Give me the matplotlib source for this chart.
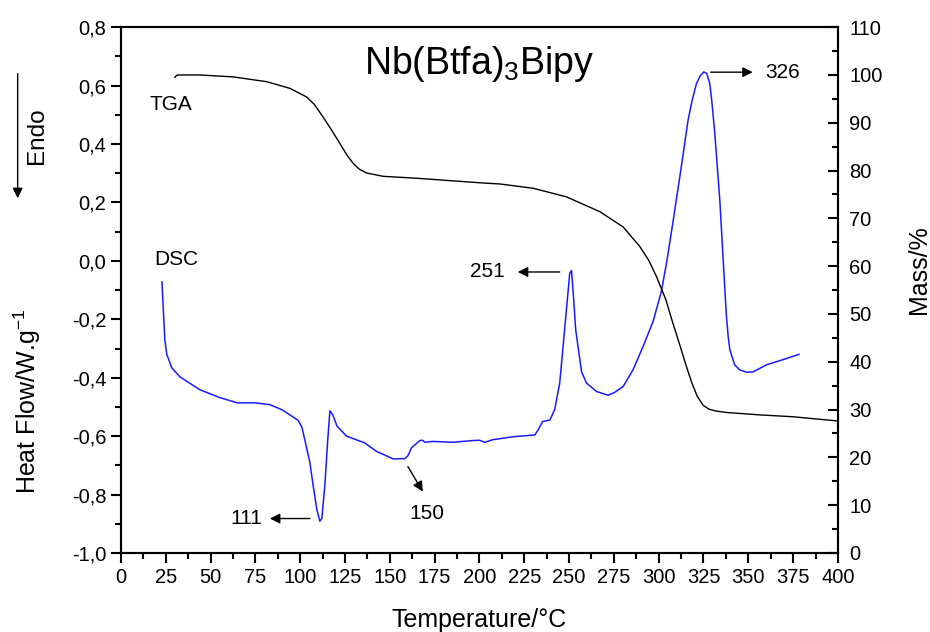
import matplotlib
matplotlib.use("Agg")
import matplotlib.pyplot as plt
from matplotlib.patches import FancyArrowPatch
from matplotlib.ticker import MultipleLocator, FuncFormatter

plt.rcParams['font.family'] = ['Liberation Sans', 'DejaVu Sans']
plt.rcParams['mathtext.fontset'] = 'custom'
plt.rcParams['mathtext.rm'] = 'Liberation Sans'
plt.rcParams['mathtext.it'] = 'Liberation Sans'

# DSC curve (temperature in degC, heat flow in W/g)
dsc_t = [22.9, 23.4, 24.5, 25.6, 28.4, 32.9, 44.0, 55.2, 65.0, 75.0, 83.0, 90.0,
         98.9, 101.0, 103.2, 105.4, 107.6, 109.3, 111.0, 112.1, 113.8, 115.4,
         116.6, 118.2, 120.6, 125.9, 136.0, 142.6, 151.9, 158.4, 160.1, 162.1,
         166.8, 168.3, 169.5, 174.0, 185.2, 196.3, 200.0, 203.0, 207.6, 218.8,
         230.9, 232.8, 235.2, 239.3, 242.0, 244.8, 246.5, 248.2, 250.4, 251.4,
         252.6, 253.7, 255.0, 257.0, 259.7, 265.3, 271.8, 275.5, 280.2, 285.7,
         291.3, 296.9, 301.5, 304.5, 307.3, 311.8, 314.0, 316.4, 318.7, 321.1,
         323.0, 325.2, 326.8, 328.5, 329.6, 331.3, 334.1, 336.3, 337.8, 338.8,
         339.7, 342.4, 345.2, 349.0, 352.7, 360.1, 369.4, 378.3]
dsc_hf = [-0.072, -0.133, -0.27, -0.32, -0.366, -0.397, -0.441, -0.468, -0.486,
          -0.486, -0.492, -0.51, -0.546, -0.57, -0.629, -0.69, -0.783, -0.851,
          -0.891, -0.882, -0.766, -0.612, -0.513, -0.527, -0.566, -0.60, -0.623,
          -0.652, -0.678, -0.677, -0.667, -0.64, -0.615, -0.614, -0.621, -0.618,
          -0.621, -0.615, -0.614, -0.621, -0.612, -0.602, -0.596, -0.578, -0.550,
          -0.545, -0.509, -0.418, -0.305, -0.19, -0.042, -0.033, -0.133, -0.235,
          -0.293, -0.38, -0.418, -0.447, -0.46, -0.45, -0.43, -0.373, -0.293,
          -0.207, -0.105, -0.003, 0.106, 0.288, 0.38, 0.482, 0.55, 0.607, 0.632,
          0.647, 0.642, 0.607, 0.55, 0.437, 0.209, -0.031, -0.19, -0.26, -0.304,
          -0.356, -0.373, -0.381, -0.38, -0.356, -0.338, -0.32]

# TGA curve (temperature in degC, mass in %)
tga_t = [30.1, 31.0, 32.0, 44.1, 62.6, 81.3, 94.3, 103.6, 108.0, 112.8, 117.5,
         122.1, 126.0, 129.6, 133.0, 137.0, 146.3, 164.9, 202.1, 211.4, 230.0,
         248.6, 267.2, 280.2, 289.5, 294.5, 298.8, 304.0, 308.0, 311.8, 315.5,
         318.5, 321.5, 324.8, 328.0, 332.0, 337.8, 356.0, 375.0, 400.4]
tga_mass = [99.5, 99.9, 100.0, 100.0, 99.6, 98.6, 97.2, 95.4, 93.8, 91.2, 88.5,
            85.7, 83.3, 81.5, 80.3, 79.5, 78.8, 78.4, 77.4, 77.2, 76.3, 74.5,
            71.4, 68.2, 64.1, 61.2, 57.8, 53.0, 48.0, 43.5, 39.0, 35.6, 32.8,
            30.9, 30.1, 29.7, 29.4, 28.9, 28.5, 27.6]

# peak labels: (text, arrow start, arrow end, text position, alignment)
peak_labels = [
    ("111", (105.4, -0.882), (83.1, -0.882), (78.6, -0.882), 'right'),
    ("150", (160.1, -0.704), (168.4, -0.79), (170.7, -0.865), 'center'),
    ("251", (244.8, -0.038), (221.4, -0.038), (214.2, -0.038), 'right'),
    ("326", (329.0, 0.646), (352.5, 0.646), (359.2, 0.646), 'left'),
]


def comma(v, pos):
    return f"{v:.1f}".replace('.', ',')


fig = plt.figure(figsize=(9.3, 6.32), dpi=100)
ax = fig.add_axes([0.130, 0.125, 0.771, 0.832])
ax2 = ax.twinx()

ax.plot(dsc_t, dsc_hf, color='#1a1aff', lw=1.1)
ax2.plot(tga_t, tga_mass, color='black', lw=1.0)

ax.set_xlim(0, 400)
ax.set_ylim(-1.0, 0.8)
ax2.set_ylim(0, 110)

ax.xaxis.set_major_locator(MultipleLocator(25))
ax.xaxis.set_minor_locator(MultipleLocator(12.5))
ax.yaxis.set_major_locator(MultipleLocator(0.2))
ax.yaxis.set_minor_locator(MultipleLocator(0.1))
ax.yaxis.set_major_formatter(FuncFormatter(comma))
ax2.yaxis.set_major_locator(MultipleLocator(10))
ax2.yaxis.set_minor_locator(MultipleLocator(5))

for a in (ax, ax2):
    for s in a.spines.values():
        s.set_linewidth(1.5)
ax.tick_params(axis='both', which='major', direction='out', length=7, width=1.5,
               labelsize=14.5)
ax.tick_params(axis='both', which='minor', direction='out', length=4, width=1.5)
ax.tick_params(axis='x', top=False, which='both')
ax2.tick_params(axis='y', which='major', direction='in', length=7, width=1.5,
                labelsize=14.5, pad=8)
ax2.tick_params(axis='y', which='minor', direction='in', length=4, width=1.5)

ax.set_xlabel('Temperature/°C', fontsize=18)
ax.xaxis.set_label_coords(0.5, -0.105)
fig.text(27 / 930, 1 - 401 / 632, 'Heat Flow/W.g$^{-1}$', fontsize=18,
         rotation=90, ha='center', va='center')
fig.text(919 / 930, 1 - 270 / 632, 'Mass/%', fontsize=18,
         rotation=90, ha='center', va='center')

ax.text(0.5, 0.93, 'Nb(Btfa)$_3$Bipy', transform=ax.transAxes, fontsize=27,
        ha='center', va='center')
ax.text(27.9, 0.537, 'TGA', fontsize=15, ha='center', va='center')
ax.text(30.7, 0.003, 'DSC', fontsize=15, ha='center', va='center')

for label, start, end, pos, align in peak_labels:
    ax.annotate('', xy=end, xytext=start,
                arrowprops=dict(arrowstyle='-|>', color='black', lw=1.0,
                                mutation_scale=15, shrinkA=0, shrinkB=0))
    ax.text(pos[0], pos[1], label, fontsize=15, ha=align, va='center')

# Endo arrow on the left
fig.add_artist(FancyArrowPatch(
    (0.019, 0.888), (0.019, 0.682), transform=fig.transFigure,
    arrowstyle='-|>', mutation_scale=15, color='black', lw=1.0))
fig.text(37 / 930, 1 - 136 / 632, 'Endo', rotation=90, fontsize=17.5,
         ha='center', va='center')

fig.savefig('out.png', dpi=100)
